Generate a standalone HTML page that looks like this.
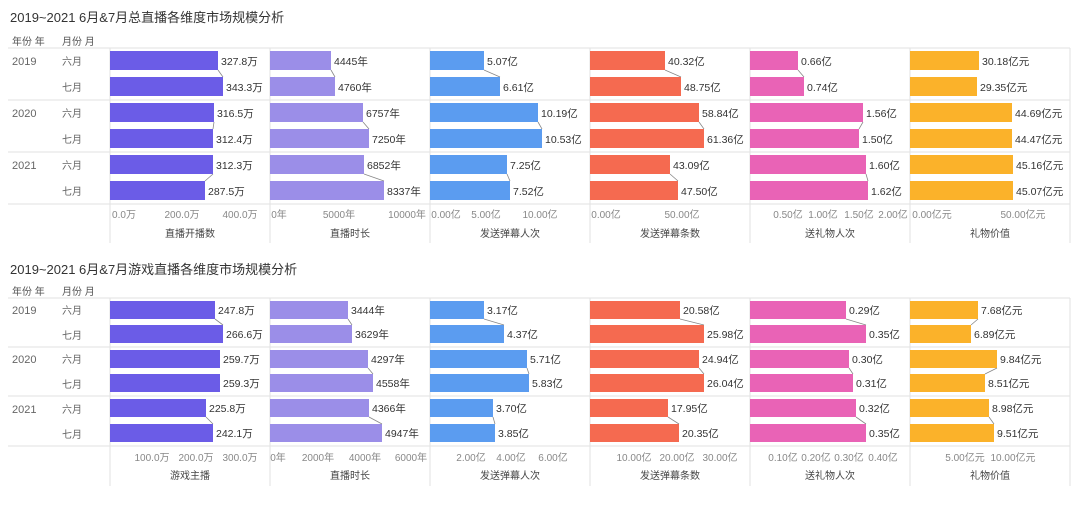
<!DOCTYPE html>
<html><head><meta charset="utf-8"><style>
body{margin:0;background:#fff;}
svg{display:block;font-family:"Liberation Sans","Noto Sans CJK SC",sans-serif;}
.t{font-size:13px;fill:#333;}
.h{font-size:10px;fill:#555;}
.y{font-size:11px;fill:#666;}
.m{font-size:10px;fill:#666;}
.v{font-size:10.5px;fill:#333;}
.k{font-size:10px;fill:#888;text-anchor:middle;}
.n{font-size:10px;fill:#444;text-anchor:middle;}
.g{stroke:#e2e2e2;stroke-width:1;}
.c{stroke:#888;stroke-width:0.8;}
</style></head><body>
<svg width="1080" height="509" viewBox="0 0 1080 509">
<!-- TOP CHART -->
<text class="t" x="10" y="22">2019~2021 6月&amp;7月总直播各维度市场规模分析</text>
<text class="h" x="12" y="45">年份 年</text><text class="h" x="62" y="45">月份 月</text>
<g class="g">
<line x1="8" y1="48" x2="1070" y2="48"/><line x1="8" y1="100" x2="1070" y2="100"/><line x1="8" y1="152" x2="1070" y2="152"/><line x1="8" y1="204" x2="1070" y2="204"/>
<line x1="110" y1="48" x2="110" y2="243"/><line x1="270" y1="48" x2="270" y2="243"/><line x1="430" y1="48" x2="430" y2="243"/><line x1="590" y1="48" x2="590" y2="243"/><line x1="750" y1="48" x2="750" y2="243"/><line x1="910" y1="48" x2="910" y2="243"/><line x1="1070" y1="48" x2="1070" y2="243"/>
</g>
<text class="y" x="12" y="65">2019</text><text class="y" x="12" y="117">2020</text><text class="y" x="12" y="169">2021</text>
<text class="m" x="62" y="65">六月</text><text class="m" x="62" y="91">七月</text>
<text class="m" x="62" y="117">六月</text><text class="m" x="62" y="143">七月</text>
<text class="m" x="62" y="169">六月</text><text class="m" x="62" y="195">七月</text>
<!-- p1 -->
<g fill="#6b5ce7">
<rect x="110" y="51" width="108" height="19"/><rect x="110" y="77" width="113" height="19"/>
<rect x="110" y="103" width="104" height="19"/><rect x="110" y="129" width="103" height="19"/>
<rect x="110" y="155" width="103" height="19"/><rect x="110" y="181" width="95" height="19"/>
</g>
<g class="c"><line x1="218" y1="70" x2="223" y2="77"/><line x1="214" y1="122" x2="213" y2="129"/><line x1="213" y1="174" x2="205" y2="181"/></g>
<text class="v" x="221" y="65">327.8万</text><text class="v" x="226" y="91">343.3万</text>
<text class="v" x="217" y="117">316.5万</text><text class="v" x="216" y="143">312.4万</text>
<text class="v" x="216" y="169">312.3万</text><text class="v" x="208" y="195">287.5万</text>
<!-- p2 -->
<g fill="#9b8ee8">
<rect x="270" y="51" width="61" height="19"/><rect x="270" y="77" width="65" height="19"/>
<rect x="270" y="103" width="93" height="19"/><rect x="270" y="129" width="99" height="19"/>
<rect x="270" y="155" width="94" height="19"/><rect x="270" y="181" width="114" height="19"/>
</g>
<g class="c"><line x1="331" y1="70" x2="335" y2="77"/><line x1="363" y1="122" x2="369" y2="129"/><line x1="364" y1="174" x2="384" y2="181"/></g>
<text class="v" x="334" y="65">4445年</text><text class="v" x="338" y="91">4760年</text>
<text class="v" x="366" y="117">6757年</text><text class="v" x="372" y="143">7250年</text>
<text class="v" x="367" y="169">6852年</text><text class="v" x="387" y="195">8337年</text>
<!-- p3 -->
<g fill="#5b9cf0">
<rect x="430" y="51" width="54" height="19"/><rect x="430" y="77" width="70" height="19"/>
<rect x="430" y="103" width="108" height="19"/><rect x="430" y="129" width="112" height="19"/>
<rect x="430" y="155" width="77" height="19"/><rect x="430" y="181" width="80" height="19"/>
</g>
<g class="c"><line x1="484" y1="70" x2="500" y2="77"/><line x1="538" y1="122" x2="542" y2="129"/><line x1="507" y1="174" x2="510" y2="181"/></g>
<text class="v" x="487" y="65">5.07亿</text><text class="v" x="503" y="91">6.61亿</text>
<text class="v" x="541" y="117">10.19亿</text><text class="v" x="545" y="143">10.53亿</text>
<text class="v" x="510" y="169">7.25亿</text><text class="v" x="513" y="195">7.52亿</text>
<!-- p4 -->
<g fill="#f56a50">
<rect x="590" y="51" width="75" height="19"/><rect x="590" y="77" width="91" height="19"/>
<rect x="590" y="103" width="109" height="19"/><rect x="590" y="129" width="114" height="19"/>
<rect x="590" y="155" width="80" height="19"/><rect x="590" y="181" width="88" height="19"/>
</g>
<g class="c"><line x1="665" y1="70" x2="681" y2="77"/><line x1="699" y1="122" x2="704" y2="129"/><line x1="670" y1="174" x2="678" y2="181"/></g>
<text class="v" x="668" y="65">40.32亿</text><text class="v" x="684" y="91">48.75亿</text>
<text class="v" x="702" y="117">58.84亿</text><text class="v" x="707" y="143">61.36亿</text>
<text class="v" x="673" y="169">43.09亿</text><text class="v" x="681" y="195">47.50亿</text>
<!-- p5 -->
<g fill="#e963b6">
<rect x="750" y="51" width="48" height="19"/><rect x="750" y="77" width="54" height="19"/>
<rect x="750" y="103" width="113" height="19"/><rect x="750" y="129" width="109" height="19"/>
<rect x="750" y="155" width="116" height="19"/><rect x="750" y="181" width="118" height="19"/>
</g>
<g class="c"><line x1="798" y1="70" x2="804" y2="77"/><line x1="863" y1="122" x2="859" y2="129"/><line x1="866" y1="174" x2="868" y2="181"/></g>
<text class="v" x="801" y="65">0.66亿</text><text class="v" x="807" y="91">0.74亿</text>
<text class="v" x="866" y="117">1.56亿</text><text class="v" x="862" y="143">1.50亿</text>
<text class="v" x="869" y="169">1.60亿</text><text class="v" x="871" y="195">1.62亿</text>
<!-- p6 -->
<g fill="#fbb22a">
<rect x="910" y="51" width="69" height="19"/><rect x="910" y="77" width="67" height="19"/>
<rect x="910" y="103" width="102" height="19"/><rect x="910" y="129" width="102" height="19"/>
<rect x="910" y="155" width="103" height="19"/><rect x="910" y="181" width="103" height="19"/>
</g>
<text class="v" x="982" y="65">30.18亿元</text><text class="v" x="980" y="91">29.35亿元</text>
<text class="v" x="1015" y="117">44.69亿元</text><text class="v" x="1015" y="143">44.47亿元</text>
<text class="v" x="1016" y="169">45.16亿元</text><text class="v" x="1016" y="195">45.07亿元</text>
<!-- ticks top -->
<text class="k" x="124" y="218">0.0万</text><text class="k" x="182" y="218">200.0万</text><text class="k" x="240" y="218">400.0万</text>
<text class="k" x="279" y="218">0年</text><text class="k" x="339" y="218">5000年</text><text class="k" x="407" y="218">10000年</text>
<text class="k" x="446" y="218">0.00亿</text><text class="k" x="486" y="218">5.00亿</text><text class="k" x="540" y="218">10.00亿</text>
<text class="k" x="606" y="218">0.00亿</text><text class="k" x="682" y="218">50.00亿</text>
<text class="k" x="788" y="218">0.50亿</text><text class="k" x="823" y="218">1.00亿</text><text class="k" x="859" y="218">1.50亿</text><text class="k" x="893" y="218">2.00亿</text>
<text class="k" x="932" y="218">0.00亿元</text><text class="k" x="1023" y="218">50.00亿元</text>
<text class="n" x="190" y="237">直播开播数</text><text class="n" x="350" y="237">直播时长</text><text class="n" x="510" y="237">发送弹幕人次</text><text class="n" x="670" y="237">发送弹幕条数</text><text class="n" x="830" y="237">送礼物人次</text><text class="n" x="990" y="237">礼物价值</text>

<!-- BOTTOM CHART -->
<text class="t" x="10" y="274">2019~2021 6月&amp;7月游戏直播各维度市场规模分析</text>
<text class="h" x="12" y="295">年份 年</text><text class="h" x="62" y="295">月份 月</text>
<g class="g">
<line x1="8" y1="298" x2="1070" y2="298"/><line x1="8" y1="347" x2="1070" y2="347"/><line x1="8" y1="396" x2="1070" y2="396"/><line x1="8" y1="446" x2="1070" y2="446"/>
<line x1="110" y1="298" x2="110" y2="486"/><line x1="270" y1="298" x2="270" y2="486"/><line x1="430" y1="298" x2="430" y2="486"/><line x1="590" y1="298" x2="590" y2="486"/><line x1="750" y1="298" x2="750" y2="486"/><line x1="910" y1="298" x2="910" y2="486"/><line x1="1070" y1="298" x2="1070" y2="486"/>
</g>
<text class="y" x="12" y="314">2019</text><text class="y" x="12" y="363">2020</text><text class="y" x="12" y="413">2021</text>
<text class="m" x="62" y="314">六月</text><text class="m" x="62" y="339">七月</text>
<text class="m" x="62" y="363">六月</text><text class="m" x="62" y="388">七月</text>
<text class="m" x="62" y="413">六月</text><text class="m" x="62" y="438">七月</text>
<!-- b1 -->
<g fill="#6b5ce7">
<rect x="110" y="301" width="105" height="18"/><rect x="110" y="325" width="113" height="18"/>
<rect x="110" y="350" width="110" height="18"/><rect x="110" y="374" width="110" height="18"/>
<rect x="110" y="399" width="96" height="18"/><rect x="110" y="424" width="103" height="18"/>
</g>
<g class="c"><line x1="215" y1="319" x2="223" y2="325"/><line x1="206" y1="417" x2="213" y2="424"/></g>
<text class="v" x="218" y="314">247.8万</text><text class="v" x="226" y="338">266.6万</text>
<text class="v" x="223" y="363">259.7万</text><text class="v" x="223" y="387">259.3万</text>
<text class="v" x="209" y="412">225.8万</text><text class="v" x="216" y="437">242.1万</text>
<!-- b2 -->
<g fill="#9b8ee8">
<rect x="270" y="301" width="78" height="18"/><rect x="270" y="325" width="82" height="18"/>
<rect x="270" y="350" width="98" height="18"/><rect x="270" y="374" width="103" height="18"/>
<rect x="270" y="399" width="99" height="18"/><rect x="270" y="424" width="112" height="18"/>
</g>
<g class="c"><line x1="348" y1="319" x2="352" y2="325"/><line x1="368" y1="368" x2="373" y2="374"/><line x1="369" y1="417" x2="382" y2="424"/></g>
<text class="v" x="351" y="314">3444年</text><text class="v" x="355" y="338">3629年</text>
<text class="v" x="371" y="363">4297年</text><text class="v" x="376" y="387">4558年</text>
<text class="v" x="372" y="412">4366年</text><text class="v" x="385" y="437">4947年</text>
<!-- b3 -->
<g fill="#5b9cf0">
<rect x="430" y="301" width="54" height="18"/><rect x="430" y="325" width="74" height="18"/>
<rect x="430" y="350" width="97" height="18"/><rect x="430" y="374" width="99" height="18"/>
<rect x="430" y="399" width="63" height="18"/><rect x="430" y="424" width="65" height="18"/>
</g>
<g class="c"><line x1="484" y1="319" x2="504" y2="325"/><line x1="527" y1="368" x2="529" y2="374"/><line x1="493" y1="417" x2="495" y2="424"/></g>
<text class="v" x="487" y="314">3.17亿</text><text class="v" x="507" y="338">4.37亿</text>
<text class="v" x="530" y="363">5.71亿</text><text class="v" x="532" y="387">5.83亿</text>
<text class="v" x="496" y="412">3.70亿</text><text class="v" x="498" y="437">3.85亿</text>
<!-- b4 -->
<g fill="#f56a50">
<rect x="590" y="301" width="90" height="18"/><rect x="590" y="325" width="114" height="18"/>
<rect x="590" y="350" width="109" height="18"/><rect x="590" y="374" width="114" height="18"/>
<rect x="590" y="399" width="78" height="18"/><rect x="590" y="424" width="89" height="18"/>
</g>
<g class="c"><line x1="680" y1="319" x2="704" y2="325"/><line x1="699" y1="368" x2="704" y2="374"/><line x1="668" y1="417" x2="679" y2="424"/></g>
<text class="v" x="683" y="314">20.58亿</text><text class="v" x="707" y="338">25.98亿</text>
<text class="v" x="702" y="363">24.94亿</text><text class="v" x="707" y="387">26.04亿</text>
<text class="v" x="671" y="412">17.95亿</text><text class="v" x="682" y="437">20.35亿</text>
<!-- b5 -->
<g fill="#e963b6">
<rect x="750" y="301" width="96" height="18"/><rect x="750" y="325" width="116" height="18"/>
<rect x="750" y="350" width="99" height="18"/><rect x="750" y="374" width="103" height="18"/>
<rect x="750" y="399" width="106" height="18"/><rect x="750" y="424" width="116" height="18"/>
</g>
<g class="c"><line x1="846" y1="319" x2="866" y2="325"/><line x1="849" y1="368" x2="853" y2="374"/><line x1="856" y1="417" x2="866" y2="424"/></g>
<text class="v" x="849" y="314">0.29亿</text><text class="v" x="869" y="338">0.35亿</text>
<text class="v" x="852" y="363">0.30亿</text><text class="v" x="856" y="387">0.31亿</text>
<text class="v" x="859" y="412">0.32亿</text><text class="v" x="869" y="437">0.35亿</text>
<!-- b6 -->
<g fill="#fbb22a">
<rect x="910" y="301" width="68" height="18"/><rect x="910" y="325" width="61" height="18"/>
<rect x="910" y="350" width="87" height="18"/><rect x="910" y="374" width="75" height="18"/>
<rect x="910" y="399" width="79" height="18"/><rect x="910" y="424" width="84" height="18"/>
</g>
<g class="c"><line x1="978" y1="319" x2="971" y2="325"/><line x1="997" y1="368" x2="985" y2="374"/><line x1="989" y1="417" x2="994" y2="424"/></g>
<text class="v" x="981" y="314">7.68亿元</text><text class="v" x="974" y="338">6.89亿元</text>
<text class="v" x="1000" y="363">9.84亿元</text><text class="v" x="988" y="387">8.51亿元</text>
<text class="v" x="992" y="412">8.98亿元</text><text class="v" x="997" y="437">9.51亿元</text>
<!-- ticks bottom -->
<text class="k" x="152" y="461">100.0万</text><text class="k" x="196" y="461">200.0万</text><text class="k" x="240" y="461">300.0万</text>
<text class="k" x="278" y="461">0年</text><text class="k" x="318" y="461">2000年</text><text class="k" x="365" y="461">4000年</text><text class="k" x="411" y="461">6000年</text>
<text class="k" x="471" y="461">2.00亿</text><text class="k" x="511" y="461">4.00亿</text><text class="k" x="553" y="461">6.00亿</text>
<text class="k" x="634" y="461">10.00亿</text><text class="k" x="677" y="461">20.00亿</text><text class="k" x="720" y="461">30.00亿</text>
<text class="k" x="783" y="461">0.10亿</text><text class="k" x="816" y="461">0.20亿</text><text class="k" x="849" y="461">0.30亿</text><text class="k" x="883" y="461">0.40亿</text>
<text class="k" x="965" y="461">5.00亿元</text><text class="k" x="1013" y="461">10.00亿元</text>
<text class="n" x="190" y="479">游戏主播</text><text class="n" x="350" y="479">直播时长</text><text class="n" x="510" y="479">发送弹幕人次</text><text class="n" x="670" y="479">发送弹幕条数</text><text class="n" x="830" y="479">送礼物人次</text><text class="n" x="990" y="479">礼物价值</text>
</svg>
</body></html>
